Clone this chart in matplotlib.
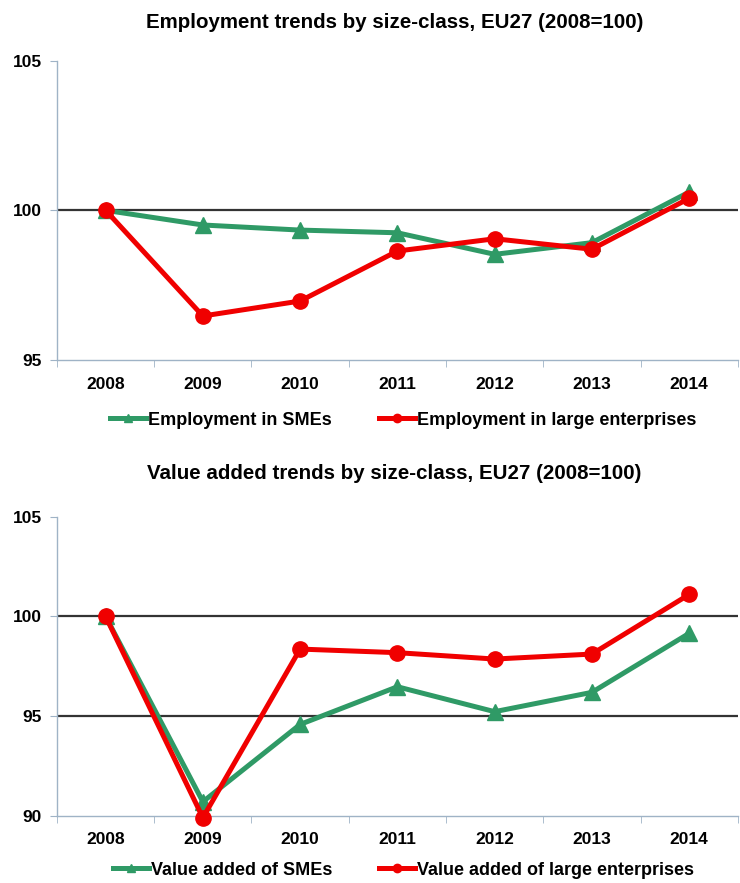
import numpy as np
import matplotlib.pyplot as plt
from matplotlib.lines import Line2D

years = ['2008', '2009', '2010', '2011', '2012', '2013', '2014']

# employment, 2008=100
emp_sme = [100, 99.51, 99.34, 99.25, 98.53, 98.92, 100.61]
emp_large = [100, 96.47, 96.97, 98.64, 99.05, 98.70, 100.40]

# value added, 2008=100
va_sme = [100, 90.7, 94.58, 96.47, 95.22, 96.19, 99.15]
va_large = [100, 89.9, 98.36, 98.18, 97.86, 98.11, 101.1]

GREEN = '#2f9a66'
RED = '#f00000'
AXIS = '#9fb3c6'
FONT = ['Liberation Sans Narrow', 'Liberation Sans', 'DejaVu Sans']

plt.rcParams['font.family'] = FONT
plt.rcParams['font.weight'] = 'bold'

fig = plt.figure(figsize=(7.4, 8.83), dpi=100)


def panel(rect, sme, large, ylim, yticks, grid, title, labels, title_y, leg_y):
    ax = fig.add_axes(rect)
    x = np.arange(len(years))
    for g in grid:
        ax.axhline(g, color='#333333', lw=1.6, zorder=1)
    ax.plot(x, sme, color=GREEN, lw=3.6, marker='^', ms=11, zorder=3,
            clip_on=False)
    ax.plot(x, large, color=RED, lw=3.6, marker='o', ms=11, zorder=4,
            clip_on=False)
    ax.set_xlim(-0.5, len(years) - 0.5)
    ax.set_ylim(*ylim)
    ax.set_yticks(yticks)
    ax.set_yticklabels([str(t) for t in yticks], fontsize=12.5, fontweight='bold')
    ax.set_xticks(x)
    ax.set_xticklabels(years, fontsize=12.5, fontweight='bold')
    ax.set_xticks(np.arange(-0.5, len(years)), minor=True)
    ax.tick_params(axis='x', which='major', length=0, pad=12)
    ax.tick_params(axis='x', which='minor', length=5, color=AXIS, direction='out')
    ax.tick_params(axis='y', length=5, color=AXIS, pad=6)
    for s in ['top', 'right']:
        ax.spines[s].set_visible(False)
    for s in ['left', 'bottom']:
        ax.spines[s].set_color(AXIS)
        ax.spines[s].set_linewidth(1.0)
    fig.text(0.533, title_y, title, ha='center', va='center', fontsize=14.8,
             fontweight='bold')
    handles = [
        Line2D([], [], color=GREEN, lw=3.6, marker='^', ms=6),
        Line2D([], [], color=RED, lw=3.6, marker='o', ms=6),
    ]
    fig.legend(handles, labels, loc='center', bbox_to_anchor=(0.545, leg_y),
               ncol=2, frameon=False, fontsize=13, handlelength=2.0,
               handletextpad=0.1, columnspacing=2.6)
    return ax


panel([0.077, 0.5923, 0.92, 0.339], emp_sme, emp_large, (95, 105),
      [95, 100, 105], [100], 'Employment trends by size-class, EU27 (2008=100)',
      ['Employment in SMEs', 'Employment in large enterprises'], 0.975, 0.524)

panel([0.077, 0.0762, 0.92, 0.3386], va_sme, va_large, (90, 105),
      [90, 95, 100, 105], [95, 100], 'Value added trends by size-class, EU27 (2008=100)',
      ['Value added of SMEs', 'Value added of large enterprises'], 0.464, 0.0147)

fig.savefig('out.png', dpi=100)
